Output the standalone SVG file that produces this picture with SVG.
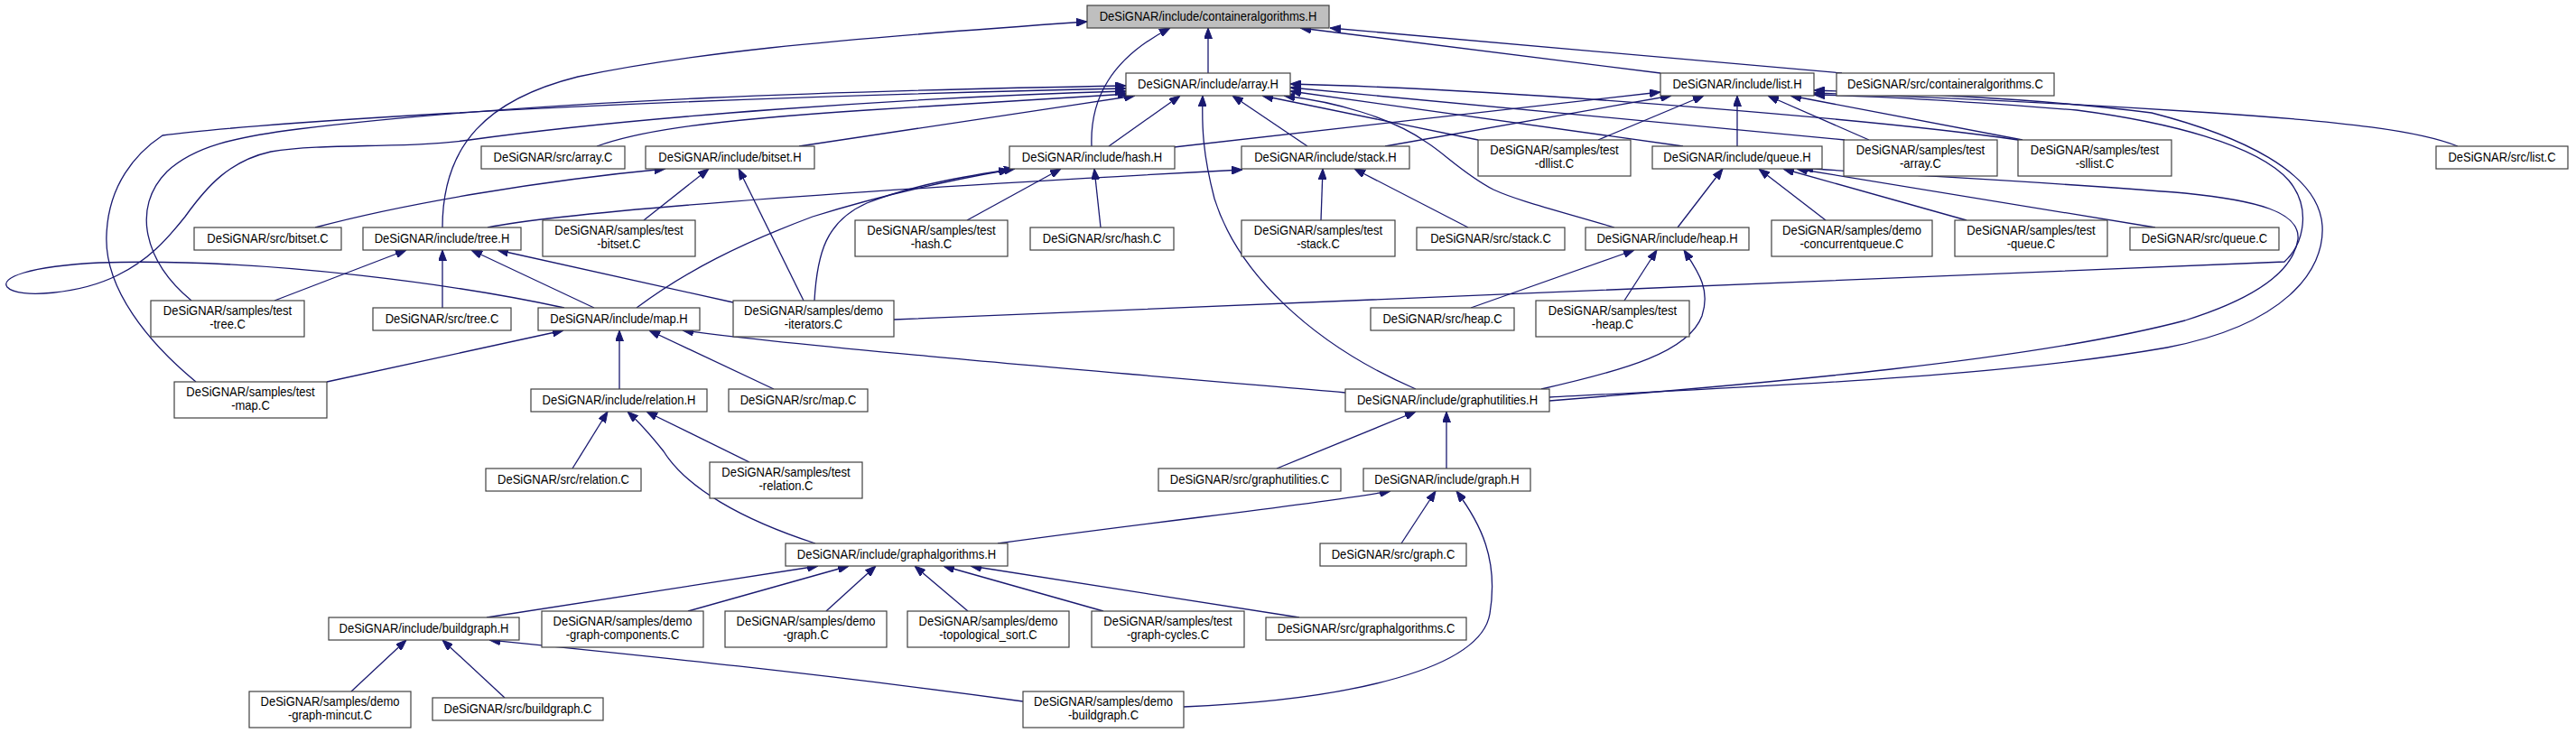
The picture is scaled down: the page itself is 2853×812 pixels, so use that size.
<svg xmlns="http://www.w3.org/2000/svg" width="2853" height="812" viewBox="0 0 2853 812">
<style>
.n rect{fill:#ffffff;stroke:#404040;stroke-width:1.2}
.root rect{fill:#bfbfbf}
.n text{font-family:"Liberation Sans",Arial,sans-serif;font-size:14px;fill:#000;text-anchor:middle;transform-box:fill-box;transform-origin:center;transform:scaleX(0.93)}
.e path{fill:none;stroke:#191970;stroke-width:1.3;marker-end:url(#ah)}
</style>
<defs>
<marker id="ah" viewBox="0 0 12 9" refX="12" refY="4.5" markerWidth="12" markerHeight="9" markerUnits="userSpaceOnUse" orient="auto">
<path d="M0,0 L12,4.5 L0,9 z" fill="#191970" stroke="#191970" stroke-width="1"/>
</marker>
</defs>
<rect x="0" y="0" width="2853" height="812" fill="#ffffff"/>
<g id="edges" class="e">
<path d="M1338,81 L1338,31"/>
<path d="M1209,162 C1207,110 1230,65 1296,31"/>
<path d="M490,252 C490,160 540,110 640,85 C760,60 900,45 1204,24"/>
<path d="M1839,81 L1440,31"/>
<path d="M2040,81 L1473,31"/>
<path d="M212,333 C160,290 145,230 185,190 C215,162 260,152 330,143 C600,110 960,100 1247,95"/>
<path d="M217,423 C165,380 115,320 118,260 C120,205 150,170 180,150 C250,140 600,112 1247,98"/>
<path d="M625,341 C520,318 300,285 110,291 C30,295 0,308 8,318 C20,332 90,325 130,305 C165,288 185,265 205,240 C230,205 255,178 300,168 C360,158 450,165 520,155 C700,130 1000,108 1247,101"/>
<path d="M661,162 C700,148 760,135 960,122 L1250,104"/>
<path d="M885,162 C920,156 1100,130 1257,106"/>
<path d="M1228,162 L1307,106"/>
<path d="M1568,431 C1450,380 1370,300 1345,220 C1332,170 1331,140 1332,106"/>
<path d="M1448,162 L1365,106"/>
<path d="M1637,155 L1398,106"/>
<path d="M1788,252 C1720,232 1680,222 1654,210 C1620,192 1600,170 1579,157 C1540,130 1480,113 1422,106"/>
<path d="M2043,155 L1429,97"/>
<path d="M2235,155 C2100,135 1700,100 1429,93"/>
<path d="M1864,162 L1429,101"/>
<path d="M1300,163 L1839,102"/>
<path d="M1534,162 L1851,106"/>
<path d="M1770,155 L1887,106"/>
<path d="M1924,162 L1924,106"/>
<path d="M2070,155 L1958,106"/>
<path d="M2240,155 L1983,106"/>
<path d="M2722,162 C2680,145 2600,135 2450,125 C2250,112 2100,106 2009,103"/>
<path d="M990,354 L2530,290 C2552,270 2560,230 2535,200 C2500,160 2400,135 2300,122 C2150,110 2060,106 2009,105"/>
<path d="M1716,440 C1900,430 2200,420 2400,385 C2530,360 2575,300 2572,250 C2568,190 2480,150 2383,125 C2250,108 2100,103 2009,100"/>
<path d="M1858,252 L1908,187"/>
<path d="M2022,244 L1948,187"/>
<path d="M2178,244 L1975,187"/>
<path d="M2387,252 L1990,187"/>
<path d="M1716,444 C1950,425 2250,400 2420,355 C2500,330 2540,300 2545,265 C2548,235 2500,222 2420,214 C2250,200 2100,194 1996,186"/>
<path d="M1629,341 L1810,277"/>
<path d="M1799,333 L1835,277"/>
<path d="M1707,431 C1800,410 1870,390 1885,350 C1895,320 1880,300 1865,277"/>
<path d="M540,252 C620,236 900,213 1376,188"/>
<path d="M1463,244 L1465,187"/>
<path d="M1626,252 L1500,187"/>
<path d="M1071,244 L1175,187"/>
<path d="M1219,252 L1212,187"/>
<path d="M705,341 C760,300 820,270 900,240 C980,215 1050,200 1118,188"/>
<path d="M902,333 C905,280 915,245 960,225 C1010,205 1070,195 1124,187"/>
<path d="M349,252 C450,225 600,200 737,187"/>
<path d="M713,244 L785,187"/>
<path d="M890,333 L818,187"/>
<path d="M304,333 L450,277"/>
<path d="M490,341 L490,277"/>
<path d="M658,341 L522,277"/>
<path d="M812,335 L551,277"/>
<path d="M362,423 L624,366"/>
<path d="M686,431 L686,366"/>
<path d="M857,431 L719,366"/>
<path d="M1490,435 C1200,410 900,385 756,366"/>
<path d="M1414,519 L1568,456"/>
<path d="M1602,519 L1602,456"/>
<path d="M634,519 L673,456"/>
<path d="M830,512 L716,456"/>
<path d="M903,602 C820,575 760,540 735,500 C715,475 705,465 695,456"/>
<path d="M1105,602 C1300,575 1450,560 1540,544"/>
<path d="M1552,602 L1590,544"/>
<path d="M1311,783 C1500,775 1640,740 1650,680 C1660,620 1640,580 1613,544"/>
<path d="M539,684 L906,627"/>
<path d="M762,677 L940,627"/>
<path d="M915,677 L970,627"/>
<path d="M1072,677 L1013,627"/>
<path d="M1222,677 L1045,627"/>
<path d="M1439,684 L1075,627"/>
<path d="M389,766 L450,709"/>
<path d="M559,773 L490,709"/>
<path d="M1133,777 C900,745 700,725 542,709"/>
</g>
<g id="n0" class="n root"><rect x="1204" y="6" width="268" height="25"/><text x="1338" y="23.5">DeSiGNAR/include/containeralgorithms.H</text></g>
<g id="n1" class="n"><rect x="1247" y="81" width="182" height="25"/><text x="1338" y="98.5">DeSiGNAR/include/array.H</text></g>
<g id="n2" class="n"><rect x="1839" y="81" width="170" height="25"/><text x="1924" y="98.5">DeSiGNAR/include/list.H</text></g>
<g id="n3" class="n"><rect x="2034" y="81" width="241" height="25"/><text x="2154.5" y="98.5">DeSiGNAR/src/containeralgorithms.C</text></g>
<g id="n4" class="n"><rect x="533" y="162" width="159" height="25"/><text x="612.5" y="179.5">DeSiGNAR/src/array.C</text></g>
<g id="n5" class="n"><rect x="715" y="162" width="187" height="25"/><text x="808.5" y="179.5">DeSiGNAR/include/bitset.H</text></g>
<g id="n6" class="n"><rect x="1118" y="162" width="183" height="25"/><text x="1209.5" y="179.5">DeSiGNAR/include/hash.H</text></g>
<g id="n7" class="n"><rect x="1375" y="162" width="186" height="25"/><text x="1468" y="179.5">DeSiGNAR/include/stack.H</text></g>
<g id="n8" class="n"><rect x="1637" y="155" width="169" height="40"/><text x="1721.5" y="171">DeSiGNAR/samples/test</text><text x="1721.5" y="186">-dllist.C</text></g>
<g id="n9" class="n"><rect x="1830" y="162" width="188" height="25"/><text x="1924" y="179.5">DeSiGNAR/include/queue.H</text></g>
<g id="n10" class="n"><rect x="2042" y="155" width="170" height="40"/><text x="2127" y="171">DeSiGNAR/samples/test</text><text x="2127" y="186">-array.C</text></g>
<g id="n11" class="n"><rect x="2235" y="155" width="170" height="40"/><text x="2320" y="171">DeSiGNAR/samples/test</text><text x="2320" y="186">-sllist.C</text></g>
<g id="n12" class="n"><rect x="2698" y="162" width="146" height="25"/><text x="2771" y="179.5">DeSiGNAR/src/list.C</text></g>
<g id="n13" class="n"><rect x="215" y="252" width="163" height="25"/><text x="296.5" y="269.5">DeSiGNAR/src/bitset.C</text></g>
<g id="n14" class="n"><rect x="402" y="252" width="175" height="25"/><text x="489.5" y="269.5">DeSiGNAR/include/tree.H</text></g>
<g id="n15" class="n"><rect x="601" y="244" width="169" height="40"/><text x="685.5" y="260">DeSiGNAR/samples/test</text><text x="685.5" y="275">-bitset.C</text></g>
<g id="n16" class="n"><rect x="947" y="244" width="169" height="40"/><text x="1031.5" y="260">DeSiGNAR/samples/test</text><text x="1031.5" y="275">-hash.C</text></g>
<g id="n17" class="n"><rect x="1141" y="252" width="159" height="25"/><text x="1220.5" y="269.5">DeSiGNAR/src/hash.C</text></g>
<g id="n18" class="n"><rect x="1375" y="244" width="170" height="40"/><text x="1460" y="260">DeSiGNAR/samples/test</text><text x="1460" y="275">-stack.C</text></g>
<g id="n19" class="n"><rect x="1569" y="252" width="164" height="25"/><text x="1651" y="269.5">DeSiGNAR/src/stack.C</text></g>
<g id="n20" class="n"><rect x="1756" y="252" width="181" height="25"/><text x="1846.5" y="269.5">DeSiGNAR/include/heap.H</text></g>
<g id="n21" class="n"><rect x="1962" y="244" width="178" height="40"/><text x="2051" y="260">DeSiGNAR/samples/demo</text><text x="2051" y="275">-concurrentqueue.C</text></g>
<g id="n22" class="n"><rect x="2165" y="244" width="169" height="40"/><text x="2249.5" y="260">DeSiGNAR/samples/test</text><text x="2249.5" y="275">-queue.C</text></g>
<g id="n23" class="n"><rect x="2359" y="252" width="165" height="25"/><text x="2441.5" y="269.5">DeSiGNAR/src/queue.C</text></g>
<g id="n24" class="n"><rect x="167" y="333" width="170" height="40"/><text x="252" y="349">DeSiGNAR/samples/test</text><text x="252" y="364">-tree.C</text></g>
<g id="n25" class="n"><rect x="413" y="341" width="153" height="25"/><text x="489.5" y="358.5">DeSiGNAR/src/tree.C</text></g>
<g id="n26" class="n"><rect x="596" y="341" width="179" height="25"/><text x="685.5" y="358.5">DeSiGNAR/include/map.H</text></g>
<g id="n27" class="n"><rect x="812" y="333" width="178" height="40"/><text x="901" y="349">DeSiGNAR/samples/demo</text><text x="901" y="364">-iterators.C</text></g>
<g id="n28" class="n"><rect x="1518" y="341" width="159" height="25"/><text x="1597.5" y="358.5">DeSiGNAR/src/heap.C</text></g>
<g id="n29" class="n"><rect x="1701" y="333" width="170" height="40"/><text x="1786" y="349">DeSiGNAR/samples/test</text><text x="1786" y="364">-heap.C</text></g>
<g id="n30" class="n"><rect x="193" y="423" width="169" height="40"/><text x="277.5" y="439">DeSiGNAR/samples/test</text><text x="277.5" y="454">-map.C</text></g>
<g id="n31" class="n"><rect x="588" y="431" width="195" height="25"/><text x="685.5" y="448.5">DeSiGNAR/include/relation.H</text></g>
<g id="n32" class="n"><rect x="807" y="431" width="154" height="25"/><text x="884" y="448.5">DeSiGNAR/src/map.C</text></g>
<g id="n33" class="n"><rect x="1490" y="431" width="226" height="25"/><text x="1603" y="448.5">DeSiGNAR/include/graphutilities.H</text></g>
<g id="n34" class="n"><rect x="538" y="519" width="172" height="25"/><text x="624" y="536.5">DeSiGNAR/src/relation.C</text></g>
<g id="n35" class="n"><rect x="786" y="512" width="169" height="40"/><text x="870.5" y="528">DeSiGNAR/samples/test</text><text x="870.5" y="543">-relation.C</text></g>
<g id="n36" class="n"><rect x="1283" y="519" width="202" height="25"/><text x="1384" y="536.5">DeSiGNAR/src/graphutilities.C</text></g>
<g id="n37" class="n"><rect x="1510" y="519" width="185" height="25"/><text x="1602.5" y="536.5">DeSiGNAR/include/graph.H</text></g>
<g id="n38" class="n"><rect x="870" y="602" width="246" height="25"/><text x="993" y="619.5">DeSiGNAR/include/graphalgorithms.H</text></g>
<g id="n39" class="n"><rect x="1462" y="602" width="162" height="25"/><text x="1543" y="619.5">DeSiGNAR/src/graph.C</text></g>
<g id="n40" class="n"><rect x="364" y="684" width="211" height="25"/><text x="469.5" y="701.5">DeSiGNAR/include/buildgraph.H</text></g>
<g id="n41" class="n"><rect x="600" y="677" width="179" height="40"/><text x="689.5" y="693">DeSiGNAR/samples/demo</text><text x="689.5" y="708">-graph-components.C</text></g>
<g id="n42" class="n"><rect x="803" y="677" width="179" height="40"/><text x="892.5" y="693">DeSiGNAR/samples/demo</text><text x="892.5" y="708">-graph.C</text></g>
<g id="n43" class="n"><rect x="1005" y="677" width="179" height="40"/><text x="1094.5" y="693">DeSiGNAR/samples/demo</text><text x="1094.5" y="708">-topological_sort.C</text></g>
<g id="n44" class="n"><rect x="1209" y="677" width="169" height="40"/><text x="1293.5" y="693">DeSiGNAR/samples/test</text><text x="1293.5" y="708">-graph-cycles.C</text></g>
<g id="n45" class="n"><rect x="1402" y="684" width="222" height="25"/><text x="1513" y="701.5">DeSiGNAR/src/graphalgorithms.C</text></g>
<g id="n46" class="n"><rect x="276" y="766" width="179" height="40"/><text x="365.5" y="782">DeSiGNAR/samples/demo</text><text x="365.5" y="797">-graph-mincut.C</text></g>
<g id="n47" class="n"><rect x="479" y="773" width="189" height="25"/><text x="573.5" y="790.5">DeSiGNAR/src/buildgraph.C</text></g>
<g id="n48" class="n"><rect x="1133" y="766" width="178" height="40"/><text x="1222" y="782">DeSiGNAR/samples/demo</text><text x="1222" y="797">-buildgraph.C</text></g>
</svg>
